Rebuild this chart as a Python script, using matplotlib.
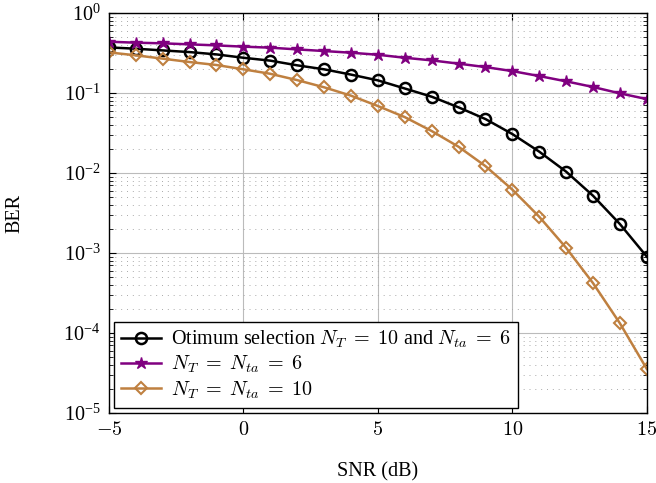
import numpy as np
import matplotlib
matplotlib.use("Agg")
import matplotlib.pyplot as plt
from matplotlib.ticker import LogLocator, NullFormatter

plt.rcParams.update({
    "font.family": "serif",
    "font.serif": ["Liberation Serif", "DejaVu Serif"],
    "mathtext.fontset": "cm",
    "font.size": 14.5,
})

snr = np.arange(-5, 16)

ber_opt = [0.372, 0.358, 0.341, 0.325, 0.304, 0.276, 0.254, 0.222, 0.198, 0.170,
           0.144, 0.114, 0.090, 0.0662, 0.0473, 0.0307, 0.0185, 0.0104, 0.0052,
           0.0023, 0.0009]
ber_6 = [0.438, 0.426, 0.418, 0.406, 0.394, 0.380, 0.369, 0.351, 0.335, 0.319,
         0.301, 0.276, 0.256, 0.233, 0.211, 0.188, 0.163, 0.140, 0.119, 0.099,
         0.084]
ber_10 = [0.322, 0.296, 0.269, 0.244, 0.224, 0.198, 0.174, 0.145, 0.118, 0.0927,
          0.0688, 0.050, 0.0335, 0.0213, 0.0122, 0.0062, 0.00284, 0.00116,
          0.00042, 0.000132, 3.55e-5]

fig = plt.figure(figsize=(6.56, 4.83), dpi=100)
ax = fig.add_axes([0.166, 0.145, 0.820, 0.828])

ax.plot(snr, ber_opt, color="black", lw=1.8, marker="o", ms=8,
        mfc="none", mew=1.8,
        label=r"Otimum selection $N_T\;=\;10$ and $N_{ta}\;=\;6$")
ax.plot(snr, ber_6, color="purple", lw=1.8, marker="*", ms=9,
        mew=1.0, label=r"$N_T\;=\;N_{ta}\;=\;6$")
ax.plot(snr, ber_10, color=(0.75, 0.5, 0.25), lw=1.8, marker="D", ms=6,
        mfc="none", mew=1.5, label=r"$N_T\;=\;N_{ta}\;=\;10$")

ax.set_yscale("log")
ax.set_xlim(-5, 15)
ax.set_ylim(1e-5, 1)
ax.set_xticks([-5, 0, 5, 10, 15])
ax.set_xticklabels([r"$-5$", r"$0$", r"$5$", r"$10$", r"$15$"])
ax.yaxis.set_major_locator(LogLocator(base=10, numticks=10))
ax.yaxis.set_minor_locator(LogLocator(base=10, subs=np.arange(2, 10), numticks=10))
ax.yaxis.set_minor_formatter(NullFormatter())

ax.grid(True, which="major", color="#bbbbbb", lw=0.8)
ax.grid(True, which="minor", axis="y", color="#aaaaaa", lw=0.7, ls=(0, (1, 5)))
ax.tick_params(which="both", direction="in", top=True, right=True, labelsize=14.5)
ax.tick_params(which="major", length=5, pad=6)
ax.tick_params(which="minor", length=3)
for s in ax.spines.values():
    s.set_linewidth(1.0)

ax.set_xlabel("SNR (dB)", fontsize=14.5, labelpad=16)
ax.set_ylabel("BER", fontsize=14.5, labelpad=28)

leg = ax.legend(loc="lower left", fontsize=14.5, fancybox=False, framealpha=1,
                edgecolor="black", borderaxespad=0.25, handlelength=2.0,
                labelspacing=0.2, borderpad=0.35, handletextpad=0.5)
leg.get_frame().set_linewidth(1.0)

fig.savefig("out.png", dpi=100)
